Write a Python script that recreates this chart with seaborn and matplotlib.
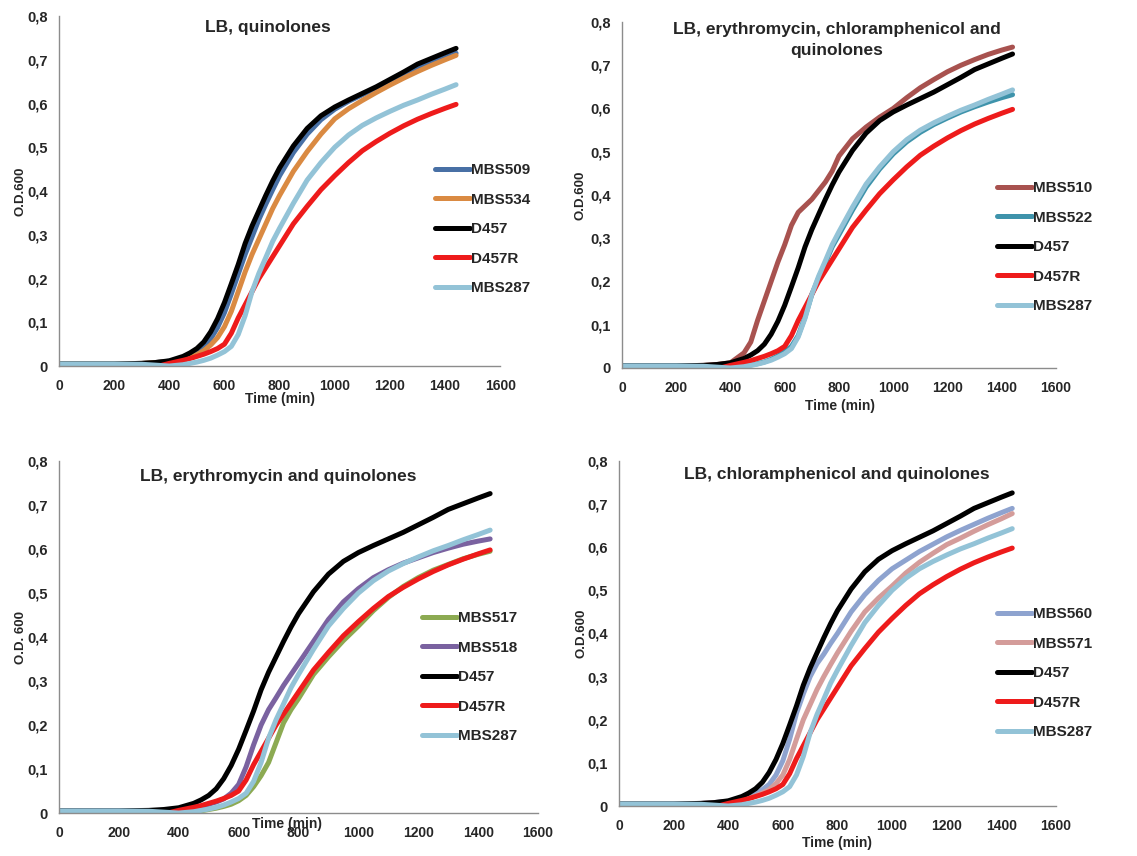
import numpy as np
import pandas as pd
import matplotlib
matplotlib.use("Agg")
import matplotlib.pyplot as plt
import seaborn as sns

# ---------------- data ----------------
time_min = [0, 100, 200, 300, 350, 400, 450, 475, 500, 525, 550, 575, 600, 625, 650, 675,
            700, 725, 750, 775, 800, 850, 900, 950, 1000, 1050, 1100, 1150, 1200, 1250,
            1300, 1350, 1400, 1440]
nan = float("nan")

D457 = [0.005, 0.005, 0.005, 0.006, 0.008, 0.012, 0.022, 0.03, 0.04, 0.055, 0.078, 0.108,
        0.145, 0.188, 0.232, 0.28, 0.32, 0.355, 0.39, 0.423, 0.453, 0.503, 0.543, 0.572,
        0.592, 0.608, 0.623, 0.638, 0.655, 0.672, 0.69, 0.703, 0.716, 0.726]
D457R = [nan, nan, nan, -0.003, -0.002, 0.006, 0.013, 0.017, 0.022, 0.027, 0.033, 0.04,
         0.05, 0.075, 0.11, 0.14, 0.17, 0.2, 0.225, 0.25, 0.275, 0.325, 0.365, 0.403,
         0.435, 0.465, 0.492, 0.513, 0.532, 0.549, 0.564, 0.577, 0.589, 0.598]
MBS287 = [0.005, 0.005, 0.005, 0.004, 0.002, 0.0, 0.003, 0.006, 0.009, 0.013, 0.018, 0.025,
          0.033, 0.045, 0.072, 0.115, 0.17, 0.212, 0.248, 0.285, 0.315, 0.372, 0.425, 0.465,
          0.5, 0.528, 0.55, 0.567, 0.582, 0.596, 0.608, 0.621, 0.633, 0.643]
MBS509 = [0.005, 0.005, 0.005, 0.006, 0.008, 0.011, 0.018, 0.024, 0.032, 0.045, 0.062, 0.088,
          0.122, 0.165, 0.21, 0.255, 0.295, 0.335, 0.37, 0.403, 0.435, 0.488, 0.53, 0.563,
          0.587, 0.605, 0.62, 0.635, 0.65, 0.665, 0.68, 0.693, 0.705, 0.715]
MBS534 = [0.005, 0.005, 0.005, 0.006, 0.008, 0.01, 0.015, 0.02, 0.026, 0.035, 0.048, 0.065,
          0.09, 0.125, 0.17, 0.215, 0.255, 0.29, 0.325, 0.36, 0.39, 0.445, 0.49, 0.53,
          0.565, 0.588, 0.607, 0.625, 0.642, 0.658, 0.673, 0.687, 0.7, 0.71]
MBS510 = [0.005, 0.005, 0.005, 0.006, 0.008, 0.012, 0.035, 0.06, 0.11, 0.155, 0.2, 0.245,
          0.285, 0.33, 0.36, 0.375, 0.39, 0.41, 0.43, 0.455, 0.49, 0.53, 0.557, 0.58,
          0.6, 0.625, 0.648, 0.667, 0.685, 0.7, 0.713, 0.725, 0.735, 0.742]
MBS522 = [0.005, 0.005, 0.005, 0.004, 0.003, 0.002, 0.004, 0.007, 0.01, 0.014, 0.02, 0.028,
          0.038, 0.05, 0.075, 0.118, 0.17, 0.208, 0.243, 0.28, 0.308, 0.365, 0.418, 0.46,
          0.495, 0.523, 0.545, 0.563, 0.578, 0.592, 0.604, 0.615, 0.625, 0.632]
MBS517 = [0.005, 0.005, 0.005, 0.004, 0.003, 0.002, 0.003, 0.005, 0.008, 0.011, 0.015, 0.02,
          0.028, 0.04, 0.06, 0.085, 0.115, 0.16, 0.205, 0.235, 0.26, 0.315, 0.355, 0.392,
          0.425, 0.46, 0.49, 0.515, 0.535, 0.552, 0.565, 0.578, 0.588, 0.595]
MBS518 = [0.005, 0.005, 0.005, 0.005, 0.006, 0.008, 0.012, 0.015, 0.02, 0.025, 0.032, 0.045,
          0.065, 0.105, 0.155, 0.2, 0.235, 0.262, 0.29, 0.315, 0.34, 0.39, 0.44, 0.48,
          0.51, 0.535, 0.553, 0.568, 0.58, 0.592, 0.602, 0.611, 0.618, 0.623]
MBS560 = [0.005, 0.005, 0.005, 0.006, 0.008, 0.011, 0.017, 0.021, 0.028, 0.038, 0.05, 0.072,
          0.105, 0.155, 0.215, 0.26, 0.3, 0.33, 0.352, 0.377, 0.4, 0.45, 0.49, 0.523,
          0.55, 0.57, 0.59, 0.607, 0.624, 0.639, 0.653, 0.667, 0.68, 0.69]
MBS571 = [0.005, 0.005, 0.005, 0.006, 0.008, 0.01, 0.015, 0.018, 0.023, 0.03, 0.038, 0.052,
          0.072, 0.108, 0.155, 0.2, 0.235, 0.27, 0.3, 0.328, 0.355, 0.405, 0.45, 0.482,
          0.51, 0.54, 0.565, 0.586, 0.606, 0.621, 0.637, 0.652, 0.666, 0.678]

series = {"D457": D457, "D457R": D457R, "MBS287": MBS287, "MBS509": MBS509, "MBS534": MBS534,
          "MBS510": MBS510, "MBS522": MBS522, "MBS517": MBS517, "MBS518": MBS518,
          "MBS560": MBS560, "MBS571": MBS571}

colors = {"D457": "#000000", "D457R": "#EE1B1B", "MBS287": "#93C3D7", "MBS509": "#4870A5",
          "MBS534": "#DA8A42", "MBS510": "#A8524F", "MBS522": "#3E93AB", "MBS517": "#8CAA52",
          "MBS518": "#7A62A0", "MBS560": "#8EA3CF", "MBS571": "#D49C9A"}

titles = ["LB, quinolones",
          "LB, erythromycin, chloramphenicol and\nquinolones",
          "LB, erythromycin and quinolones",
          "LB, chloramphenicol and quinolones"]
panel_strains = [["MBS509", "MBS534", "D457", "D457R", "MBS287"],
                 ["MBS510", "MBS522", "D457", "D457R", "MBS287"],
                 ["MBS517", "MBS518", "D457", "D457R", "MBS287"],
                 ["MBS560", "MBS571", "D457", "D457R", "MBS287"]]
ylabels = ["O.D.600", "O.D.600", "O.D. 600", "O.D.600"]
x_ticks = [0, 200, 400, 600, 800, 1000, 1200, 1400, 1600]
y_ticks = [0, 0.1, 0.2, 0.3, 0.4, 0.5, 0.6, 0.7, 0.8]
y_tick_labels = ["0", "0,1", "0,2", "0,3", "0,4", "0,5", "0,6", "0,7", "0,8"]

# ---------------- style ----------------
sns.set_style("white")
plt.rcParams["font.family"] = ["Liberation Sans", "DejaVu Sans"]
plt.rcParams["font.weight"] = "bold"

fig = plt.figure(figsize=(11.37, 8.56), dpi=100)

axes_rects = [(0.0519, 0.5724, 0.3880, 0.4089),
              (0.5470, 0.5701, 0.3817, 0.4042),
              (0.0519, 0.0502, 0.4213, 0.4112),
              (0.5444, 0.0584, 0.3843, 0.4031)]
title_pos = [(0.474, 0.966), (0.495, 0.948), (0.457, 0.955), (0.499, 0.96)]
legend_anchor = [(0.3826, 0.8095), (0.8769, 0.7885), (0.3712, 0.2862), (0.8769, 0.2909)]
xlabel_y = [-0.075, -0.09, -0.01, -0.088]
xlabel_x = [0.501, 0.502, 0.475, 0.499]
ylabel_x = [-0.073, -0.081, -0.067, -0.073]

spine_col = "#8c8c8c"

for i in range(4):
    ax = fig.add_axes(axes_rects[i])
    strains = panel_strains[i]
    df = pd.DataFrame({
        "Time": np.tile(time_min, len(strains)),
        "OD": np.concatenate([series[s] for s in strains]),
        "Strain": np.repeat(strains, len(time_min)),
    })
    sns.lineplot(data=df, x="Time", y="OD", hue="Strain", hue_order=strains,
                 palette=colors, linewidth=3.6, estimator=None, sort=False,
                 legend=False, ax=ax)
    for ln in ax.get_lines():
        ln.set_solid_capstyle("round")
        ln.set_solid_joinstyle("round")
    ax.set_xlim(0, 1600)
    ax.set_ylim(0, 0.8)
    ax.set_xticks(x_ticks)
    ax.set_xticklabels([str(v) for v in x_ticks], fontsize=10, fontweight="bold")
    ax.set_yticks(y_ticks)
    ax.set_yticklabels(y_tick_labels, fontsize=10.5, fontweight="bold")
    ax.tick_params(axis="both", direction="out", length=4, width=1, color=spine_col)
    ax.tick_params(axis="x", pad=5.5)
    ax.tick_params(axis="y", pad=4)
    for side in ["top", "right"]:
        ax.spines[side].set_visible(False)
    for side in ["left", "bottom"]:
        ax.spines[side].set_color(spine_col)
        ax.spines[side].set_linewidth(1)
    ax.set_xlabel("Time (min)", fontsize=10, fontweight="bold")
    ax.set_ylabel(ylabels[i], fontsize=9.5, fontweight="bold")
    ax.xaxis.set_label_coords(xlabel_x[i], xlabel_y[i])
    ax.yaxis.set_label_coords(ylabel_x[i], 0.5)
    ax.text(title_pos[i][0], title_pos[i][1], titles[i], transform=ax.transAxes,
            ha="center", va="center", fontsize=12.5, fontweight="bold", linespacing=1.5)
    handles = ax.get_lines()[:len(strains)]
    leg = ax.legend(handles, strains, loc="upper left", bbox_to_anchor=legend_anchor[i],
                    bbox_transform=fig.transFigure, frameon=False, borderpad=0,
                    borderaxespad=0, handlelength=2.3, handletextpad=0.05,
                    labelspacing=1.02, prop={"size": 11, "weight": "bold"})
    for lh in leg.get_lines():
        lh.set_linewidth(3.6)

fig.savefig("out.png", dpi=100)
